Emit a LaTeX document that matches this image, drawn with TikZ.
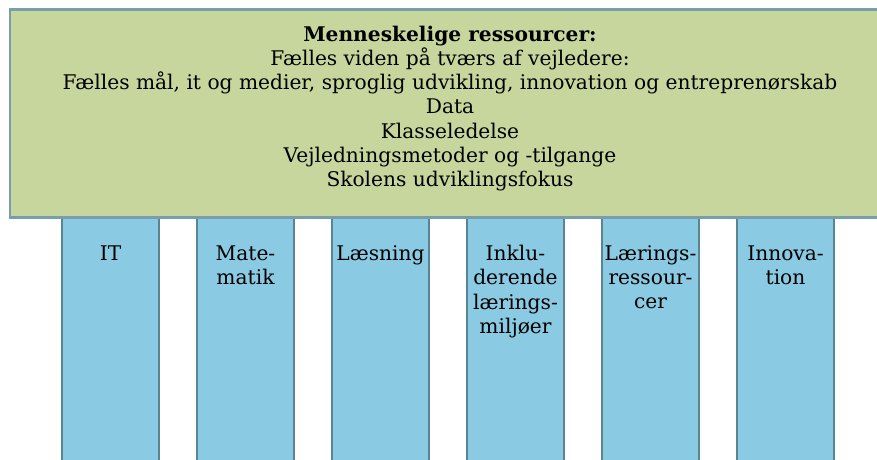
\documentclass[tikz,border=0pt]{standalone}
\usepackage{fontspec}
\setmainfont{DejaVu Serif}
\usetikzlibrary{positioning}
\definecolor{moss}{RGB}{198, 214, 156}
\definecolor{mossedge}{RGB}{120, 158, 172}
\definecolor{sky}{RGB}{138, 202, 226}
\definecolor{skyedge}{RGB}{88, 132, 148}
\tikzstyle{roof} = [rectangle, draw=mossedge, line width=2.5pt, fill=moss, minimum width=880pt, minimum height=208pt, inner sep=0pt]
\tikzstyle{pillar} = [rectangle, draw=skyedge, line width=2.5pt, fill=sky, minimum width=97pt, minimum height=260pt, inner sep=0pt]
\tikzstyle{rooftext} = [draw=none, fill=none, align=center, font=\fontsize{20.2}{24.3}\selectfont]
\tikzstyle{pillartext} = [draw=none, fill=none, align=center, anchor=north, font=\fontsize{20.2}{24.3}\selectfont]

\begin{document}
\begin{tikzpicture}[x=1pt, y=1pt]
\clip (0,0) rectangle (877,-459);

% pillars =============================
\node[pillar] (it) at (110.5,-346) {};
\node[pillar, right=35.5pt of it] (mat) {};
\node[pillar, right=35.5pt of mat] (laes) {};
\node[pillar, right=35.5pt of laes] (inkl) {};
\node[pillar, right=35.5pt of inkl] (lres) {};
\node[pillar, right=35.5pt of lres] (inno) {};

% roof
\node[roof] (res) at (450,-113.5) {};
\node[rooftext] (restext) at ([yshift=5pt]res.center) {\textbf{Menneskelige ressourcer:}\\
  Fælles viden på tværs af vejledere:\\
  Fælles mål, it og medier, sproglig udvikling, innovation og entreprenørskab\\
  Data\\
  Klasseledelse\\
  Vejledningsmetoder og -tilgange\\
  Skolens udviklingsfokus};

% labels
\node[pillartext] (itlab) at ([yshift=-23pt]res.south -| it) {IT};
\node[pillartext] (matlab) at ([yshift=-23pt]res.south -| mat) {Mate-\\matik};
\node[pillartext] (laeslab) at ([yshift=-23pt]res.south -| laes) {Læsning};
\node[pillartext] (inkllab) at ([yshift=-23pt]res.south -| inkl) {Inklu-\\derende\\lærings-\\miljøer};
\node[pillartext] (lreslab) at ([yshift=-23pt]res.south -| lres) {Lærings-\\ressour-\\cer};
\node[pillartext] (innolab) at ([yshift=-23pt]res.south -| inno) {Innova-\\tion};

\end{tikzpicture}
\end{document}
